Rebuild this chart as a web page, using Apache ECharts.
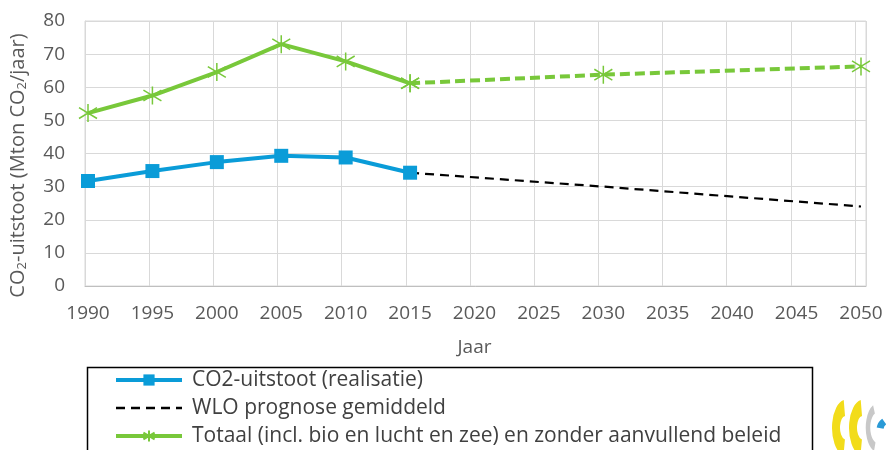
<!DOCTYPE html>
<html>
<head>
<meta charset="utf-8">
<script src="https://cdn.jsdelivr.net/npm/echarts@6/dist/echarts.min.js"></script>
<style>
  html, body { margin: 0; padding: 0; background: #fff; }
  #chart { width: 886px; height: 450px; }
</style>
</head>
<body>
<div id="chart"></div>
<script>
// data
var years = [1990, 1995, 2000, 2005, 2010, 2015];
var co2Real = [31.7, 34.7, 37.4, 39.3, 38.8, 34.2];
var totaal = [52.2, 57.5, 64.6, 73.0, 67.8, 61.2];
var wloYears = [2015, 2030, 2050];
var wloValues = [34.2, 30.0, 24.0];
var totaalPrognoseYears = [2015, 2030, 2050];
var totaalPrognose = [61.2, 63.8, 66.3];
var legendNames = ['CO2-uitstoot (realisatie)', 'WLO prognose gemiddeld', 'Totaal (incl. bio en lucht en zee) en zonder aanvullend beleid'];

function pairs(xs, ys) {
    return xs.map(function (x, i) { return [x, ys[i]]; });
}

var blue = '#0a9cd8';
var green = '#78c83a';
var font = 'Open Sans';
var star = 'path://M10 0 L10 20 M1.5 4 L18.5 16 M1.5 16 L18.5 4';

var chartDom = document.getElementById('chart');
var myChart = echarts.init(chartDom);
var option;

option = {
    animation: false,
    grid: [
        // data grid
        { left: 88, right: 25, top: 21, bottom: 164 },
        // frame + gridlines
        { left: 82, right: 20, top: 21, bottom: 164, show: true, borderColor: '#d9d9d9', borderWidth: 1 }
    ],
    xAxis: [
        {
            type: 'value',
            gridIndex: 0,
            min: 1990,
            max: 2050,
            interval: 5,
            axisLine: { show: false },
            axisTick: { show: false },
            splitLine: { show: false },
            axisLabel: {
                color: '#595959', fontFamily: font, fontSize: 19, margin: 18,
                formatter: function (v) { return String(v); }
            },
            name: 'Jaar',
            nameLocation: 'middle',
            nameGap: 52,
            nameTextStyle: { color: '#595959', fontFamily: font, fontSize: 19 }
        },
        {
            type: 'value',
            gridIndex: 1,
            min: 0,
            max: 60.85,
            interval: 5,
            axisLine: { show: true, lineStyle: { color: '#bfbfbf', width: 1 } },
            axisTick: { show: false },
            axisLabel: { show: false },
            splitLine: { show: true, lineStyle: { color: '#d9d9d9', width: 1 } }
        }
    ],
    yAxis: [
        {
            type: 'value',
            gridIndex: 0,
            min: 0,
            max: 80,
            interval: 10,
            axisLine: { show: false },
            axisTick: { show: false },
            axisLabel: { show: false },
            splitLine: { show: false }
        },
        {
            type: 'value',
            gridIndex: 1,
            min: 0,
            max: 80,
            interval: 10,
            axisLine: { show: true, lineStyle: { color: '#d9d9d9' } },
            axisTick: { show: false },
            axisLabel: { color: '#595959', fontFamily: font, fontSize: 19, margin: 20 },
            splitLine: { show: true, lineStyle: { color: '#d9d9d9', width: 1 } },
            name: 'CO{sub|2}-uitstoot (Mton CO{sub|2}/jaar)',
            nameLocation: 'middle',
            nameRotate: 90,
            nameGap: 56,
            nameTextStyle: {
                color: '#595959',
                fontFamily: font,
                fontSize: 20,
                padding: [0, 24, 0, 0],
                rich: {
                    sub: { fontSize: 13, fontFamily: font, color: '#595959', verticalAlign: 'bottom', padding: [9, 0, 0, 0] }
                }
            }
        }
    ],
    legend: {
        orient: 'vertical',
        left: 114,
        top: 369,
        padding: 0,
        itemWidth: 66,
        itemHeight: 14,
        itemGap: 6,
        data: [
            { name: legendNames[0], lineStyle: { width: 4 } },
            { name: legendNames[1], itemStyle: { opacity: 0 }, lineStyle: { width: 2.5 } },
            { name: legendNames[2], lineStyle: { width: 4 } }
        ],
        textStyle: { color: '#404040', fontFamily: font, fontSize: 21, lineHeight: 22, padding: [0, 0, 0, 5] }
    },
    graphic: [
        {
            type: 'rect',
            left: 85,
            top: 365,
            shape: { width: 725, height: 100 },
            style: { fill: 'none', stroke: '#000', lineWidth: 1.5 },
            silent: true
        },
        // little logo in the corner
        {
            type: 'group',
            left: 832,
            top: 400,
            children: [
                { type: 'arc', shape: { cx: 16, cy: 28, r: 20, startAngle: 1.75, endAngle: 4.55 }, scaleX: 0.5, originX: 16, originY: 28, style: { stroke: '#f2dc1a', lineWidth: 16, fill: 'none' } },
                { type: 'arc', shape: { cx: 33, cy: 28, r: 20, startAngle: 1.75, endAngle: 4.55 }, scaleX: 0.5, originX: 33, originY: 28, style: { stroke: '#f2dc1a', lineWidth: 16, fill: 'none' } },
                { type: 'arc', shape: { cx: 48, cy: 28, r: 20, startAngle: 1.9, endAngle: 4.3 }, scaleX: 0.5, originX: 48, originY: 28, style: { stroke: '#c8c8c8', lineWidth: 9, fill: 'none' } },
                { type: 'arc', shape: { cx: 60, cy: 30, r: 10, startAngle: 3.3, endAngle: 4.1 }, style: { stroke: '#2a9ad6', lineWidth: 7, fill: 'none' } }
            ]
        }
    ],
    series: [
        {
            name: legendNames[0],
            type: 'line',
            xAxisIndex: 0,
            yAxisIndex: 0,
            clip: false,
            data: pairs(years, co2Real),
            symbol: 'rect',
            symbolSize: 14,
            lineStyle: { color: blue, width: 4 },
            itemStyle: { color: blue, borderColor: blue, borderWidth: 0 }
        },
        {
            name: legendNames[1],
            type: 'line',
            xAxisIndex: 0,
            yAxisIndex: 0,
            clip: false,
            data: pairs(wloYears, wloValues),
            symbol: 'none',
            lineStyle: { color: '#000', width: 2.2, type: [9, 6] },
            itemStyle: { color: '#000' }
        },
        {
            name: legendNames[2],
            type: 'line',
            xAxisIndex: 0,
            yAxisIndex: 0,
            clip: false,
            data: pairs(years, totaal),
            symbol: star,
            symbolSize: 18,
            lineStyle: { color: green, width: 4 },
            itemStyle: { color: green, borderColor: green, borderWidth: 1.5 }
        },
        {
            name: 'Totaal prognose',
            type: 'line',
            xAxisIndex: 0,
            yAxisIndex: 0,
            clip: false,
            z: 1,
            data: pairs(totaalPrognoseYears, totaalPrognose),
            symbol: star,
            symbolSize: 18,
            lineStyle: { color: green, width: 4, type: [10, 5] },
            itemStyle: { color: green, borderColor: green, borderWidth: 1.5 }
        }
    ]
};

option && myChart.setOption(option);
</script>
</body>
</html>
